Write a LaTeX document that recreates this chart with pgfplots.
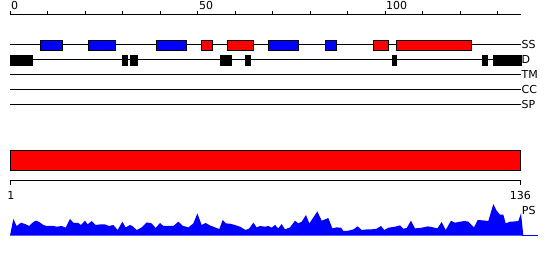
\documentclass[border=0pt]{standalone}
\usepackage{pgfplots}
\pgfplotsset{compat=1.18}
\usepackage{pgfplotstable}
\usepackage{fontspec}
\setmainfont{DejaVu Sans}

% PS profile: u = residue position, h = height
\pgfplotstableread{
u h
0.00 0
0.89 16.7
1.78 9.7
2.93 13
4.00 11.7
5.07 9.7
6.22 13.7
6.93 15
7.82 13.7
8.89 10.7
9.78 9.7
11.56 9.7
12.44 9
13.78 9.7
14.84 8
16.00 16.7
16.89 13
18.22 12.7
18.93 10.7
20.00 15
20.71 11.3
21.78 14.7
22.84 10.7
24.00 11.3
25.33 11.3
26.40 9.7
27.56 10.7
28.71 5.7
29.96 14
30.84 8.3
32.00 10.7
32.62 9.7
33.78 5.7
35.11 8.3
36.44 13.3
37.78 12.3
38.84 7.7
40.00 12.7
40.89 9.7
41.78 9.7
43.56 9.7
44.89 14
46.04 10
47.56 8.3
48.89 12.3
49.96 22.3
51.11 10.7
52.18 12.7
53.33 10.3
54.67 8.3
55.82 6.7
56.71 15.7
57.60 12.3
58.67 12
60.00 10.7
61.33 9
62.84 5.7
63.82 7.3
64.89 13
65.78 8.3
66.67 9.7
68.00 9
68.89 9.7
69.78 8
70.67 10.7
71.56 7.3
72.44 11.7
73.33 6.3
74.67 8.3
76.00 15
76.89 12.3
77.78 14
78.93 20.7
79.82 12.3
80.89 18.3
81.96 24.3
83.11 15
84.00 16.3
84.89 17.7
85.96 7.3
87.11 8.3
88.27 8
88.89 4.7
90.22 5
91.56 6.3
92.71 9.3
93.78 5.7
95.11 6.3
96.44 6.3
97.78 7
98.93 9.7
99.82 5.7
100.89 8
102.67 9
104.00 10.3
104.89 7
105.78 7.7
106.93 15
108.00 7.3
109.78 8
111.38 9.3
112.44 8.7
113.96 7.3
115.11 13.7
116.18 5.7
117.60 15
118.67 13
120.00 14
121.33 14.7
122.22 14
123.73 8.3
124.71 15.7
126.22 15.3
127.56 14.7
128.89 31.7
129.78 25
130.67 21
131.56 21
132.18 12.3
133.33 14
134.67 14.3
135.56 14.7
136.27 22.3
136.89 0
}\psdata

\newcommand{\featbox}[5]{\addplot[fill=#5, draw=black, line width=0.8pt] coordinates {(#1,#3) (#2,#3) (#2,#4) (#1,#4)} --cycle;}

\begin{document}
\begin{tikzpicture}
\begin{axis}[
  scale only axis, width=550pt, height=260pt,
  xmin=-2.6667, xmax=144, ymin=0, ymax=260,
  axis line style={draw=none}, xtick=\empty, ytick=\empty,
  clip=false,
]
% top ruler
\addplot[black, line width=1pt] coordinates {(0,245) (136.27,245)};
\addplot[black, line width=0.8pt] coordinates {(0,245) (0,249)};
\addplot[black, line width=0.8pt] coordinates {(10,245) (10,249)};
\addplot[black, line width=0.8pt] coordinates {(20,245) (20,249)};
\addplot[black, line width=0.8pt] coordinates {(30,245) (30,249)};
\addplot[black, line width=0.8pt] coordinates {(40,245) (40,249)};
\addplot[black, line width=0.8pt] coordinates {(50,245) (50,249)};
\addplot[black, line width=0.8pt] coordinates {(60,245) (60,249)};
\addplot[black, line width=0.8pt] coordinates {(70,245) (70,249)};
\addplot[black, line width=0.8pt] coordinates {(80,245) (80,249)};
\addplot[black, line width=0.8pt] coordinates {(90,245) (90,249)};
\addplot[black, line width=0.8pt] coordinates {(100,245) (100,249)};
\addplot[black, line width=0.8pt] coordinates {(110,245) (110,249)};
\addplot[black, line width=0.8pt] coordinates {(120,245) (120,249)};
\addplot[black, line width=0.8pt] coordinates {(130,245) (130,249)};
\node[anchor=base west, inner sep=0pt, font=\fontsize{11}{13}\selectfont] at (axis cs:0.27,250) {0};
\node[anchor=base west, inner sep=0pt, font=\fontsize{11}{13}\selectfont] at (axis cs:50.4,250) {50};
\node[anchor=base west, inner sep=0pt, font=\fontsize{11}{13}\selectfont] at (axis cs:100.27,250) {100};

% track lines
\addplot[black, line width=1pt] coordinates {(0,215) (136.27,215)};
\addplot[black, line width=1pt] coordinates {(0,200) (136.27,200)};
\addplot[black, line width=1pt] coordinates {(0,185) (136.27,185)};
\addplot[black, line width=1pt] coordinates {(0,170) (136.27,170)};
\addplot[black, line width=1pt] coordinates {(0,155) (136.27,155)};

% SS features
\featbox{8}{14}{210}{220}{blue}
\featbox{21}{28.2}{210}{220}{blue}
\featbox{39.1}{47.1}{210}{220}{blue}
\featbox{51}{54}{210}{220}{red}
\featbox{57.9}{65}{210}{220}{red}
\featbox{68.9}{77}{210}{220}{blue}
\featbox{84.1}{87.1}{210}{220}{blue}
\featbox{96.9}{101}{210}{220}{red}
\featbox{103}{123.1}{210}{220}{red}

% D features
\featbox{0}{6}{195}{205}{black}
\featbox{30}{31.2}{195}{205}{black}
\featbox{32}{34.1}{195}{205}{black}
\featbox{56}{59.1}{195}{205}{black}
\featbox{62.9}{64.2}{195}{205}{black}
\featbox{101.9}{103.1}{195}{205}{black}
\featbox{125.9}{127.2}{195}{205}{black}
\featbox{128.8}{136.3}{195}{205}{black}

% track labels
\node[anchor=base west, inner sep=0pt, font=\fontsize{11}{13}\selectfont] at (axis cs:136.4,211) {SS};
\node[anchor=base west, inner sep=0pt, font=\fontsize{11}{13}\selectfont] at (axis cs:136.4,196) {D};
\node[anchor=base west, inner sep=0pt, font=\fontsize{11}{13}\selectfont] at (axis cs:136.4,181) {TM};
\node[anchor=base west, inner sep=0pt, font=\fontsize{11}{13}\selectfont] at (axis cs:136.4,166) {CC};
\node[anchor=base west, inner sep=0pt, font=\fontsize{11}{13}\selectfont] at (axis cs:136.4,151) {SP};

% big red bar
\featbox{0}{136.2}{89.7}{109.7}{red}

% bottom ruler
\addplot[black, line width=1pt] coordinates {(0,79.7) (136,79.7)};
\addplot[black, line width=0.8pt] coordinates {(0,79.7) (0,75.3)};
\addplot[black, line width=0.8pt] coordinates {(136,79.7) (136,75.3)};
\node[anchor=base, inner sep=0pt, font=\fontsize{11}{13}\selectfont] at (axis cs:0.2,60) {1};
\node[anchor=base, inner sep=0pt, font=\fontsize{11}{13}\selectfont] at (axis cs:136.1,60) {136};

% PS profile
\addplot[fill=blue, draw=none] table[x=u, y expr=\thisrow{h}+24.3] {\psdata} --cycle;
\addplot[blue, line width=0.8pt] coordinates {(136.5,24.3) (140.72,24.3)};
\node[anchor=base west, inner sep=0pt, font=\fontsize{11}{13}\selectfont] at (axis cs:136.45,45) {PS};
\end{axis}
\end{tikzpicture}
\end{document}
